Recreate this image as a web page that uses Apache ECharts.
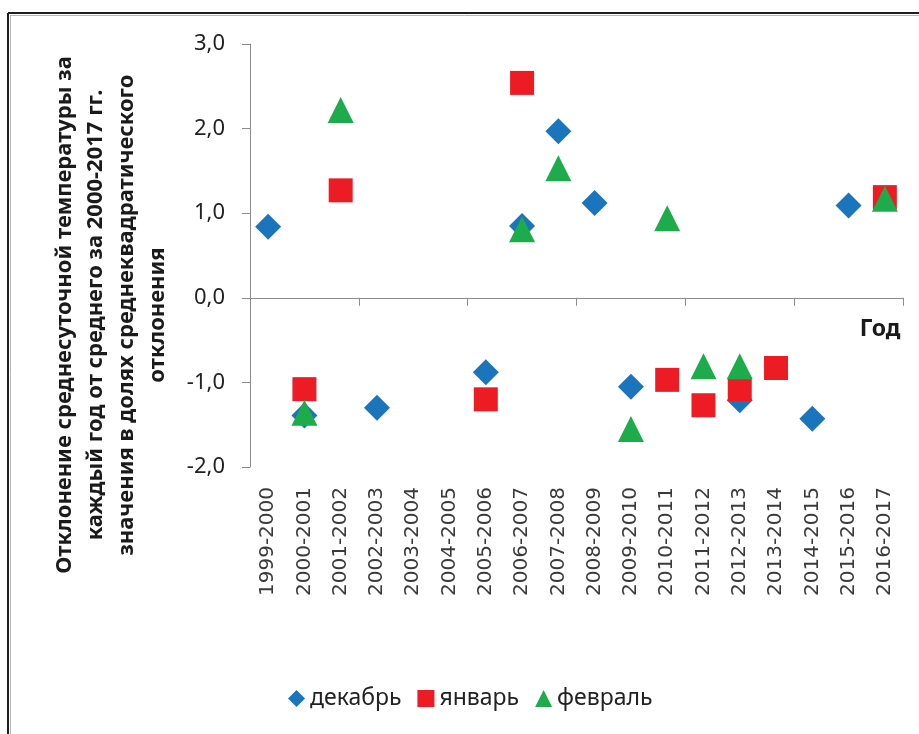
<!DOCTYPE html>
<html>
<head>
<meta charset="utf-8">
<script src="https://cdn.jsdelivr.net/npm/echarts@6/dist/echarts.min.js"></script>
<style>
  html, body { margin: 0; padding: 0; background: #fff; }
  #chart { width: 919px; height: 734px; }
</style>
</head>
<body>
<div id="chart"></div>
<script>
// Winter seasons on the x axis
const seasons = [
  '1999-2000', '2000-2001', '2001-2002', '2002-2003', '2003-2004', '2004-2005',
  '2005-2006', '2006-2007', '2007-2008', '2008-2009', '2009-2010', '2010-2011',
  '2011-2012', '2012-2013', '2013-2014', '2014-2015', '2015-2016', '2016-2017'
];

// Deviation of mean daily temperature, in units of standard deviation
const december = [0.84, -1.39, null, -1.30, null, null, -0.88, 0.85, 1.97, 1.12, -1.05, null, null, -1.21, null, -1.43, 1.09, null];
const january  = [null, -1.08, 1.27, null, null, null, -1.20, 2.54, null, null, null, -0.97, -1.27, -1.08, -0.83, null, null, 1.19];
const february = [null, -1.36, 2.22, null, null, null, null, 0.81, 1.53, null, -1.55, 0.94, -0.81, -0.81, null, null, null, 1.17];

const yTicks = { min: -2, max: 3, step: 1 };

const seriesNames = ['декабрь', 'январь', 'февраль'];
const yTitle = 'Отклонение среднесуточной температуры за\nкаждый год от среднего за 2000-2017 гг.\nзначения в долях среднеквадратического\nотклонения';
const xTitle = 'Год';

const BLUE = '#1b75bc', RED = '#ed1c24', GREEN = '#1dab4b';
const AXIS = '#8c8c8c';

const chart = echarts.init(document.getElementById('chart'), null, { renderer: 'canvas' });

chart.setOption({
  backgroundColor: '#ffffff',
  animation: false,
  grid: { left: 250, right: 16, top: 44, bottom: 267, containLabel: false },
  xAxis: [
    {
      // axis line through zero, ticks only
      type: 'category',
      data: seasons,
      boundaryGap: true,
      axisLine: { onZero: true, lineStyle: { color: AXIS, width: 1 } },
      axisTick: { show: true, inside: false, length: 8, alignWithLabel: false, lineStyle: { color: AXIS } },
      axisLabel: { show: false },
      splitLine: { show: false }
    },
    {
      // season labels along the bottom of the plot
      type: 'category',
      data: seasons,
      position: 'bottom',
      boundaryGap: true,
      axisLine: { show: false, onZero: false },
      axisTick: { show: false },
      axisLabel: {
        rotate: 90,
        margin: 20,
        interval: 0,
        fontFamily: 'DejaVu Sans',
        fontSize: 20,
        color: '#3a3a3a'
      },
      splitLine: { show: false }
    }
  ],
  yAxis: {
    type: 'value',
    min: yTicks.min,
    max: yTicks.max,
    interval: yTicks.step,
    axisLine: { show: true, lineStyle: { color: AXIS, width: 1 } },
    axisTick: { show: true, length: 8, lineStyle: { color: AXIS } },
    splitLine: { show: false },
    axisLabel: {
      margin: 25,
      fontFamily: 'Noto Sans',
      fontSize: 22,
      color: '#222',
      formatter: v => v.toFixed(1).replace('.', ',')
    }
  },
  legend: {
    left: 283,
    top: 682,
    itemGap: 16,
    itemWidth: 17,
    itemHeight: 17,
    textStyle: { fontFamily: 'Noto Sans', fontSize: 23, color: '#222' },
    data: [
      { name: seriesNames[0], icon: 'diamond' },
      { name: seriesNames[1], icon: 'rect' },
      { name: seriesNames[2], icon: 'triangle' }
    ]
  },
  series: [
    {
      name: seriesNames[0], type: 'scatter', xAxisIndex: 0,
      symbol: 'diamond', symbolSize: 26,
      itemStyle: { color: BLUE, opacity: 1 },
      data: december
    },
    {
      name: seriesNames[1], type: 'scatter', xAxisIndex: 0,
      symbol: 'rect', symbolSize: 24,
      itemStyle: { color: RED, opacity: 1 },
      data: january
    },
    {
      name: seriesNames[2], type: 'scatter', xAxisIndex: 0,
      symbol: 'triangle', symbolSize: 26,
      itemStyle: { color: GREEN, opacity: 1 },
      data: february
    }
  ],
  graphic: [
    // frame edges
    { type: 'line', shape: { x1: 8, y1: 13, x2: 919, y2: 13 }, style: { stroke: '#1e1e1e', lineWidth: 2 } },
    { type: 'line', shape: { x1: 8, y1: 13, x2: 8, y2: 734 }, style: { stroke: '#1e1e1e', lineWidth: 2 } },
    { type: 'line', shape: { x1: 10, y1: 15.5, x2: 919, y2: 15.5 }, style: { stroke: '#b5b5b5', lineWidth: 1 } },
    { type: 'line', shape: { x1: 10.5, y1: 15, x2: 10.5, y2: 734 }, style: { stroke: '#b5b5b5', lineWidth: 1 } },
    // y axis title
    {
      type: 'text',
      x: 111, y: 315,
      rotation: Math.PI / 2,
      style: {
        text: yTitle,
        fill: '#1a1a1a',
        fontFamily: 'Noto Sans',
        fontSize: 22,
        fontWeight: 'bold',
        lineHeight: 31,
        align: 'center',
        verticalAlign: 'middle'
      }
    },
    // x axis title
    {
      type: 'text',
      x: 880, y: 329,
      style: {
        text: xTitle,
        fill: '#1a1a1a',
        fontFamily: 'Noto Sans',
        fontSize: 23,
        fontWeight: 'bold',
        align: 'center',
        verticalAlign: 'middle'
      }
    }
  ]
});
</script>
</body>
</html>
